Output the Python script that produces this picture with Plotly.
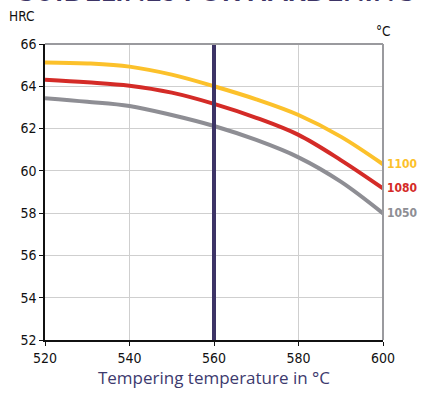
import plotly.graph_objects as go

temps = [520, 530, 540, 550, 560, 570, 580, 590, 600]
hrc_1100 = [65.13, 65.08, 64.93, 64.55, 64.0, 63.38, 62.64, 61.62, 60.31]
hrc_1080 = [64.31, 64.19, 64.03, 63.70, 63.17, 62.51, 61.70, 60.51, 59.17]
hrc_1050 = [63.44, 63.27, 63.07, 62.64, 62.12, 61.46, 60.64, 59.49, 57.99]
series_names = ["1100", "1080", "1050"]
series_colors = ["#fcc12b", "#d42b27", "#8e8e94"]
marker_temp = 560
x_ticks = [520, 540, 560, 580, 600]
y_ticks = [52, 54, 56, 58, 60, 62, 64, 66]

NARROW = "DejaVu Sans Condensed, Liberation Sans Narrow, Arial"

fig = go.Figure()
for name, vals, col in zip(series_names, [hrc_1100, hrc_1080, hrc_1050], series_colors):
    fig.add_trace(go.Scatter(x=temps, y=vals, mode="lines", name=name,
                             line=dict(color=col, width=4, shape="spline", smoothing=1.0),
                             showlegend=False, hoverinfo="skip"))
    fig.add_annotation(x=600, y=vals[-1], xref="x", yref="y", text="<b>%s</b>" % name,
                       showarrow=False, xanchor="left", xshift=2,
                       font=dict(family=NARROW, size=12, color=col))

fig.add_shape(type="line", x0=marker_temp, x1=marker_temp, y0=52, y1=66, xref="x", yref="y",
              line=dict(color="#3d3466", width=4), layer="above")

fig.add_annotation(x=0, y=1, xref="paper", yref="paper", text="HRC", showarrow=False,
                   xanchor="right", yanchor="bottom", xshift=-9, yshift=18,
                   font=dict(family=NARROW, size=13.5, color="#111111"))
fig.add_annotation(x=1, y=1, xref="paper", yref="paper", text="°C", showarrow=False,
                   xanchor="center", yanchor="bottom", yshift=3,
                   font=dict(family=NARROW, size=13.5, color="#111111"))
fig.add_annotation(x=0.5, y=1, xref="paper", yref="paper", text="<b>GUIDELINES FOR HARDENING</b>",
                   showarrow=False, xanchor="center", yanchor="bottom", yshift=35, xshift=0,
                   font=dict(family="Lato, Arial", size=28, color="#3d3466"))

fig.update_layout(
    width=429, height=396,
    margin=dict(l=45, r=46, t=44, b=56),
    paper_bgcolor="white", plot_bgcolor="white",
    xaxis=dict(range=[520, 600], tickvals=x_ticks, showgrid=True, gridcolor="#cfcfcf", gridwidth=1,
               showline=True, linecolor="#111111", linewidth=1.5, mirror=False, automargin=False,
               ticks="outside", ticklen=4, tickcolor="#111111",
               tickfont=dict(family=NARROW, size=14, color="#111111"),
               title=dict(text="Tempering temperature in °C", standoff=8,
                          font=dict(family="Open Sans, Lato, Arial", size=17, color="#3d3a6e")),
               zeroline=False),
    yaxis=dict(range=[52, 66], tickvals=y_ticks, showgrid=True, gridcolor="#cfcfcf", gridwidth=1,
               showline=True, linecolor="#111111", linewidth=1.5, automargin=False,
               ticks="outside", ticklen=4, tickcolor="#111111",
               tickfont=dict(family=NARROW, size=14, color="#111111"),
               zeroline=False),
)
fig.add_shape(type="line", x0=0, x1=1, y0=1, y1=1, xref="paper", yref="paper",
              line=dict(color="#9a9a9e", width=2))
fig.add_shape(type="line", x0=1, x1=1, y0=0, y1=1, xref="paper", yref="paper",
              line=dict(color="#9a9a9e", width=2))

fig.write_html("out.html", config={"displayModeBar": False},
               post_script="document.body.style.margin='0';")
